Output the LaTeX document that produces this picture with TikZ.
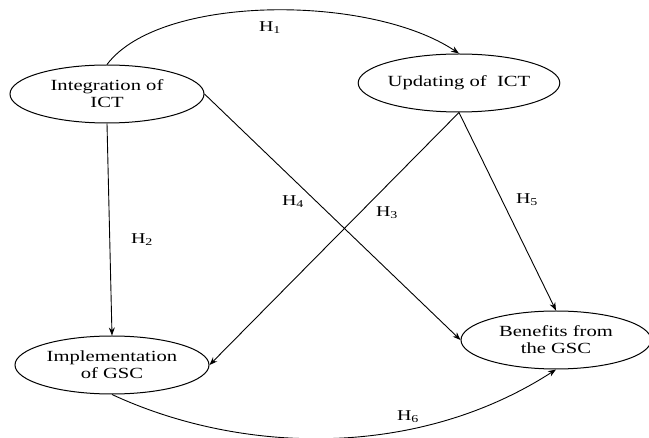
\documentclass[tikz,border=0pt]{standalone}
\usepackage{fontspec}
\setmainfont[FakeStretch=1.33]{Liberation Serif}
\usetikzlibrary{shapes.geometric,arrows.meta}
\tikzset{
  construct/.style={draw, ellipse, line width=1pt, minimum width=194pt, minimum height=58pt, inner sep=0pt, align=center, font=\fontsize{15.5}{17}\selectfont},
  link/.style={line width=0.9pt, -{Stealth[length=8pt,width=6pt]}},
  hyp/.style={font=\fontsize{15}{17}\selectfont, inner sep=0pt}
}
\begin{document}
\begin{tikzpicture}[x=1pt,y=-1pt]
\useasboundingbox (0,0) rectangle (649,438);
\node[construct] (int) at (107,94) {Integration of\\ICT};
\node[construct] (upd) at (459,83) {Updating of\ \ ICT};
\node[construct] (imp) at (112,365) {Implementation\\of GSC};
\node[construct, minimum width=190pt] (ben) at (556,340) {Benefits from\\the GSC};
\draw[link] (int.north) .. controls (160,-6) and (370,-6) .. (upd.north);
\draw[link] (int.south) -- (imp.north);
\draw[link] (int.east) -- (ben.west);
\draw[link] (upd.south) -- (imp.east);
\draw[link] (upd.south) -- (ben.north);
\draw[link] (imp.south) .. controls (240,454) and (416,460) .. (ben.south);
\node[hyp] (h1) at (270,28) {H\textsubscript{1}};
\node[hyp] (h2) at (142,240) {H\textsubscript{2}};
\node[hyp] (h3) at (387,213) {H\textsubscript{3}};
\node[hyp] (h4) at (293,202) {H\textsubscript{4}};
\node[hyp] (h5) at (527,200) {H\textsubscript{5}};
\node[hyp] (h6) at (408,417) {H\textsubscript{6}};
\end{tikzpicture}
\end{document}
